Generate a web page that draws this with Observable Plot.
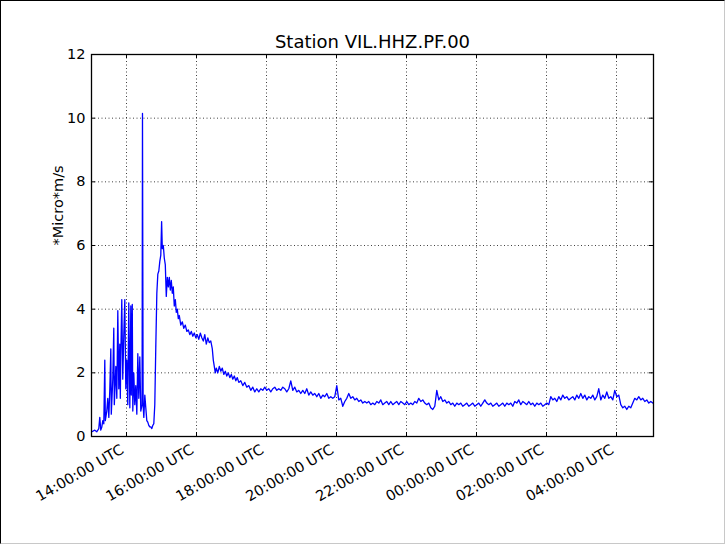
<!DOCTYPE html>
<html><head><meta charset="utf-8">
<script src="https://cdn.jsdelivr.net/npm/d3@7"></script>
<script src="https://cdn.jsdelivr.net/npm/@observablehq/plot@0.6"></script>
<style>
html,body{margin:0;padding:0;background:#fff;}
#wrap{position:relative;width:725px;height:544px;overflow:hidden;background:#fff;}
#wrap svg{position:absolute;left:0;top:0;}
#border{position:absolute;left:0;top:0;width:723px;height:542px;border-top:1px solid #000;border-left:1px solid #000;border-right:1px solid #c8c8c8;border-bottom:1px solid #c8c8c8;pointer-events:none;}
</style></head><body><div id="wrap"><div id="border"></div></div>
<script>
const title = "Station VIL.HHZ.PF.00";
const yLabel = "*Micro*m/s";
const startTime = "2014-06-01T13:00:00Z";
const endTime = "2014-06-02T05:03:25Z";
const xTickTimes = ["2014-06-01T14:00:00Z","2014-06-01T16:00:00Z","2014-06-01T18:00:00Z","2014-06-01T20:00:00Z","2014-06-01T22:00:00Z","2014-06-02T00:00:00Z","2014-06-02T02:00:00Z","2014-06-02T04:00:00Z"];
const yTicks = [0,2,4,6,8,10,12];

// minutes after startTime, first (bursty) part
const earlyMinutes = [0.5,5.7,9.1,12.5,14.2,15.9,17.7,19.4,21.1,22.8,23.7,26.2,27.9,29.7,31.4,33.1,33.9,36.5,38.2,39.1,41.7,43.4,45.1,46.8,48.5,49.4,50.2,51.9,53.6,55.4,57.1,58.8,60.5,62.2,63.9,65.7,67.4,68.2,69.9,70.8,72.5,74.2,75.9,77.7,79.4,81.1,82.8,84.5,86.7,87.4,88.5,89.7,91.4,93.1,94.8,96.5,98.2,99.9,101.6,103.4,105.1,106.8,108.5,110.2,112.0,113.7,115.4,117.1,118.8,120.2,121.4,123.1,124.8,126.5,128.2,130.0,131.7,133.4,135.1,136.8,138.5,140.2,141.9,143.7,145.4,147.1,148.8,150.5,153.1,155.7,158.2,160.8,163.4,166.0,168.5,171.1,173.7,176.2,178.8,181.4,183.9,186.5,189.1,191.7,194.2,196.8,199.4,201.9,204.5,207.1,208.8,210.5,212.2,213.9,216.5,219.1,221.7,224.2,226.8,229.4,231.9,234.5,237.1,239.7,242.2,244.8,247.4,249.9,252.5];
const earlyValues = [0.15,0.2,0.15,0.25,0.6,0.2,0.3,0.5,0.4,2.4,0.5,0.8,1.2,0.6,1.5,2.75,0.7,1.8,3.4,1.0,2.2,1.2,3.95,1.5,2.9,1.2,2.5,4.3,1.8,3.2,4.3,1.5,2.4,1.0,4.2,0.9,4.1,1.3,4.15,0.8,2.0,1.0,1.6,0.7,2.6,1.2,2.5,0.8,1.0,10.15,1.0,0.6,1.3,0.9,0.5,0.45,0.35,0.3,0.3,0.25,0.35,0.4,1.0,2.8,4.5,5.1,5.2,5.5,5.7,6.75,5.9,6.0,5.6,5.4,4.4,5.0,4.7,5.0,4.6,4.9,4.5,4.7,4.1,4.3,3.9,4.0,3.7,3.8,3.5,3.6,3.4,3.5,3.3,3.35,3.2,3.3,3.15,3.25,3.1,3.2,3.05,3.25,3.1,3.0,3.2,2.9,3.1,2.95,3.0,2.75,2.4,2.2,2.0,2.15,2.0,2.2,2.05,2.15,1.95,2.05,1.9,2.0,1.85,1.95,1.8,1.9,1.75,1.85,1.7];

// later part: regularly sampled
const lateStartMinute = 255.9;
const lateStepMinutes = 3.4286;
const lateValues = [
1.75,1.6,1.7,1.55,1.6,1.45,1.55,1.4,1.5,1.4,
1.5,1.45,1.55,1.45,1.5,1.4,1.5,1.55,1.45,1.5,
1.45,1.55,1.5,1.4,1.5,1.75,1.45,1.55,1.4,1.45,
1.35,1.45,1.35,1.5,1.3,1.4,1.3,1.35,1.25,1.35,
1.2,1.3,1.25,1.35,1.2,1.25,1.2,1.25,1.6,1.15,
1.2,0.95,1.1,1.2,1.35,1.2,1.25,1.15,1.2,1.1,
1.15,1.05,1.1,1.05,1.1,1.0,1.05,1.0,1.1,1.05,
1.15,1.0,1.05,1.1,1.0,1.1,1.0,1.05,1.1,1.0,
1.1,1.05,1.0,1.1,1.0,1.05,1.0,1.1,1.05,1.2,
1.1,1.15,1.05,1.0,1.05,0.9,0.85,0.95,1.45,1.15,
1.25,1.1,1.15,1.05,1.1,1.0,1.05,0.95,1.05,1.0,
1.05,0.95,1.0,1.05,0.95,1.0,1.05,0.95,1.0,1.05,
0.95,1.05,1.15,1.05,1.0,1.05,0.95,1.0,1.05,0.95,
1.0,1.05,0.95,1.05,1.0,1.05,0.95,1.1,1.05,1.15,
1.0,1.1,1.05,1.0,1.1,1.0,1.05,0.95,1.05,1.0,
1.05,0.95,1.0,1.05,1.0,1.25,1.15,1.2,1.1,1.25,
1.15,1.3,1.2,1.25,1.15,1.2,1.25,1.15,1.3,1.2,
1.35,1.2,1.3,1.15,1.25,1.2,1.3,1.15,1.25,1.5,
1.15,1.3,1.2,1.4,1.2,1.25,1.15,1.45,1.25,1.3,
1.0,0.9,0.95,0.85,0.95,0.9,1.05,1.2,1.15,1.25,
1.15,1.2,1.1,1.15,1.05,1.1,1.05];

const t0 = new Date(startTime).getTime();
const series = [];
earlyMinutes.forEach((m, i) => series.push({t: new Date(t0 + m * 60000), v: earlyValues[i]}));
lateValues.forEach((v, i) => series.push({t: new Date(t0 + (lateStartMinute + i * lateStepMinutes) * 60000), v}));
const xTicks = xTickTimes.map(s => new Date(s));
const fmt = d3.utcFormat("%H:%M:%S UTC");

const W = 725, H = 544, mL = 91, mR = 72, mT = 54, mB = 108;
const innerW = W - mL - mR, innerH = H - mT - mB;
const font = "DejaVu Sans";

const chart = Plot.plot({
  width: W, height: H,
  marginLeft: mL, marginRight: mR, marginTop: mT, marginBottom: mB,
  style: {fontFamily: font, fontSize: "14.5px", color: "#000", background: "transparent", overflow: "visible"},
  x: {type: "utc", domain: [new Date(startTime), new Date(endTime)], axis: null},
  y: {domain: [0, 12], axis: null},
  marks: [
    Plot.gridX(xTicks, {x: d => d, stroke: "#000", strokeOpacity: 0.75, strokeDasharray: "1,2.5"}),
    Plot.gridY(yTicks, {y: d => d, stroke: "#000", strokeOpacity: 0.75, strokeDasharray: "1,2.5"}),
    Plot.line(series, {x: "t", y: "v", stroke: "#0000ff", strokeWidth: 1.3}),
    Plot.ruleX(xTicks, {x: d => d, insetTop: innerH - 4, stroke: "#000"}),
    Plot.ruleX(xTicks, {x: d => d, insetBottom: innerH - 4, stroke: "#000"}),
    Plot.ruleY(yTicks, {y: d => d, insetRight: innerW - 4, stroke: "#000"}),
    Plot.ruleY(yTicks, {y: d => d, insetLeft: innerW - 4, stroke: "#000"}),
    Plot.frame({stroke: "#000", strokeWidth: 1.3}),
    Plot.text(yTicks, {y: d => d, text: d => String(d), frameAnchor: "left", textAnchor: "end", dx: -6, fontSize: 14.5, fill: "#000"}),
    Plot.text(xTicks, {x: d => d, text: d => fmt(d), frameAnchor: "bottom", rotate: -30, textAnchor: "end", lineAnchor: "middle", dx: -4, dy: 12, fontSize: 14.5, fill: "#000"}),
    Plot.text([title], {text: d => d, frameAnchor: "top", dy: -12, lineAnchor: "middle", fontSize: 18, fill: "#000"}),
    Plot.text([yLabel], {text: d => d, frameAnchor: "left", rotate: -90, dx: -33, lineAnchor: "middle", fontSize: 14.5, fill: "#000"})
  ]
});
document.getElementById("wrap").insertBefore(chart, document.getElementById("border"));
</script>
</body></html>
